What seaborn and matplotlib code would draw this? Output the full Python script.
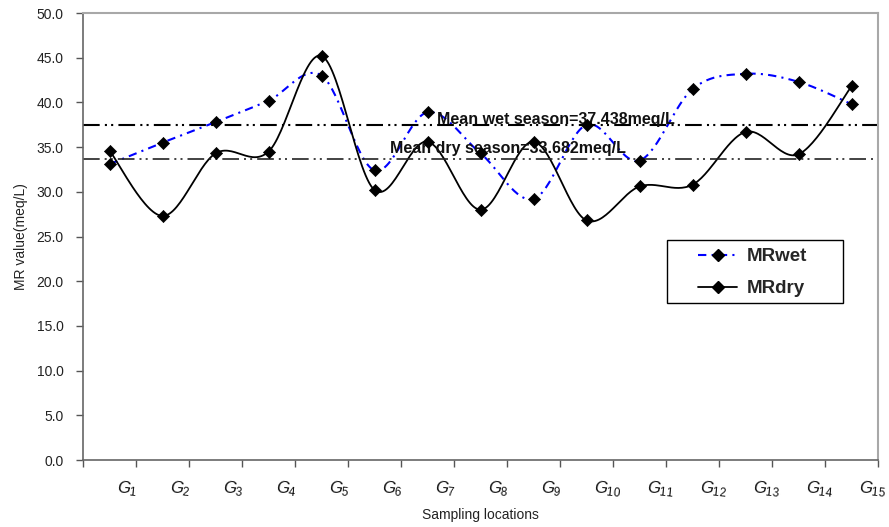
import numpy as np
import pandas as pd
import seaborn as sns
import matplotlib
matplotlib.use("Agg")
import matplotlib.pyplot as plt
from matplotlib.lines import Line2D
from matplotlib.patches import Rectangle

# values
locations = ["G1", "G2", "G3", "G4", "G5", "G6", "G7", "G8",
             "G9", "G10", "G11", "G12", "G13", "G14", "G15"]
mr_wet = [33.1, 35.5, 37.8, 40.2, 43.0, 32.4, 38.9, 34.3,
          29.2, 37.5, 33.5, 41.5, 43.2, 42.3, 39.8]
mr_dry = [34.6, 27.3, 34.3, 34.5, 45.2, 30.2, 35.6, 28.0,
          35.6, 26.8, 30.6, 30.8, 36.7, 34.2, 41.8]
mean_wet = 37.438
mean_dry = 33.682


def smooth(xs, ys, steps=30):
    # excel-style smoothed line (bezier through each pair of points)
    xs = np.asarray(xs, float)
    ys = np.asarray(ys, float)
    n = len(xs)
    px, py = [], []
    for i in range(n - 1):
        i0 = max(i - 1, 0)
        i3 = min(i + 2, n - 1)
        c1x = xs[i] + (xs[i + 1] - xs[i0]) / 6
        c1y = ys[i] + (ys[i + 1] - ys[i0]) / 6
        c2x = xs[i + 1] - (xs[i3] - xs[i]) / 6
        c2y = ys[i + 1] - (ys[i3] - ys[i]) / 6
        t = np.linspace(0, 1, steps, endpoint=(i == n - 2))
        a, b, c, d = (1 - t) ** 3, 3 * t * (1 - t) ** 2, 3 * t ** 2 * (1 - t), t ** 3
        px.extend(a * xs[i] + b * c1x + c * c2x + d * xs[i + 1])
        py.extend(a * ys[i] + b * c1y + c * c2y + d * ys[i + 1])
    return np.array(px), np.array(py)


sns.set_style("ticks")
plt.rcParams["font.family"] = ["Liberation Sans", "DejaVu Sans"]
plt.rcParams["mathtext.fontset"] = "custom"
plt.rcParams["mathtext.it"] = "Liberation Sans:italic"
plt.rcParams["mathtext.rm"] = "Liberation Sans"

pos = np.arange(len(locations))
df = pd.DataFrame({"pos": pos, "wet": mr_wet, "dry": mr_dry})

fig = plt.figure(figsize=(8.89, 5.27), dpi=100)
ax = fig.add_axes([0.0934, 0.1271, 0.8943, 0.8482])

wet_style = (0, (4, 2.5, 1, 2.5))
wx, wy = smooth(df["pos"], df["wet"])
dx, dy = smooth(df["pos"], df["dry"])
sns.lineplot(x=wx, y=wy, sort=False, ax=ax, color="#0000FF", lw=1.5,
             linestyle=wet_style, legend=False)
sns.lineplot(x=dx, y=dy, sort=False, ax=ax, color="black", lw=1.3, legend=False)
sns.scatterplot(data=df, x="pos", y="wet", marker="D", s=38, color="black",
                edgecolor="black", ax=ax, zorder=4, legend=False)
sns.scatterplot(data=df, x="pos", y="dry", marker="D", s=38, color="black",
                edgecolor="black", ax=ax, zorder=4, legend=False)

ax.axhline(mean_wet, color="black", lw=1.5, linestyle=(0, (8, 2.5, 1, 2, 1, 2.5)))
ax.axhline(mean_dry, color="#222222", lw=1.2, linestyle=(0, (10, 3, 1.2, 2.5, 1.2, 3)))
ax.text(6.18, 37.55, "Mean wet season=%.3fmeq/L" % mean_wet, fontsize=11.5,
        fontweight="bold", va="baseline", ha="left", color="#111111")
ax.text(5.29, 34.3, "Mean dry season=%.3fmeq/L" % mean_dry, fontsize=11.5,
        fontweight="bold", va="baseline", ha="left", color="#111111")

ax.set_xlim(-0.5, len(locations) - 0.5)
ax.set_ylim(0, 50)
ax.set_yticks(np.arange(0, 50.1, 5))
ax.set_yticklabels(["%.1f" % v for v in np.arange(0, 50.1, 5)])
ax.set_xticks(np.arange(-0.5, len(locations), 1))
ax.set_xticklabels([])
ax.set_xticks(pos + 0.12, minor=True)
ax.set_xticklabels(["$%s_{%s}$" % (s[0], s[1:]) for s in locations],
                   minor=True, rotation=-6, ha="left", fontsize=12)
ax.tick_params(axis="x", which="major", length=5, width=1, color="#555555", direction="out")
ax.tick_params(axis="x", which="minor", length=0, pad=13, labelcolor="#111111")
ax.tick_params(axis="y", length=5, width=1, color="#555555", labelsize=10,
               labelcolor="#222222", pad=9)

for side in ["left", "bottom"]:
    ax.spines[side].set_color("#666666")
    ax.spines[side].set_linewidth(1.2)
for side in ["top", "right"]:
    ax.spines[side].set_visible(True)
    ax.spines[side].set_color("#A8A8A8")
    ax.spines[side].set_linewidth(1.5)

ax.set_xlabel("Sampling locations", fontsize=10, color="#222222", labelpad=6)
ax.set_ylabel("MR value(meq/L)", fontsize=10, color="#222222", labelpad=6)

# legend box drawn on its own, entries placed inside it
ax.add_patch(Rectangle((0.7346, 0.351), 0.2214, 0.141, transform=ax.transAxes,
                       facecolor="white", edgecolor="black", lw=1.0, zorder=5))
handles = [
    Line2D([], [], color="#0000FF", lw=1.5, linestyle=wet_style,
           marker="D", markersize=6, markerfacecolor="black", markeredgecolor="black"),
    Line2D([], [], color="black", lw=1.3, marker="D", markersize=6,
           markerfacecolor="black", markeredgecolor="black"),
]
leg = ax.legend(handles, ["MRwet", "MRdry"], loc="center left",
                bbox_to_anchor=(0.7736, 0.419),
                prop={"weight": "bold", "size": 13.5}, frameon=False,
                handlelength=2.1, labelspacing=0.8, borderpad=0,
                handletextpad=0.5, borderaxespad=0)
leg.set_zorder(6)

fig.savefig("out.png", dpi=100)
